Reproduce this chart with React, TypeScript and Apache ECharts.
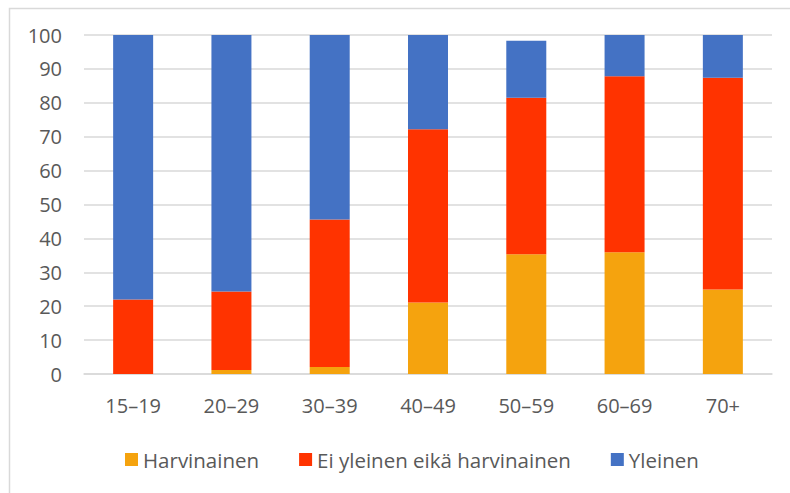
import React, { useEffect, useRef } from "react";
import * as echarts from "echarts";

const categories = ["15–19", "20–29", "30–39", "40–49", "50–59", "60–69", "70+"];
const harvinainen = [0, 1.2, 2.1, 21.1, 35.3, 35.9, 24.9];
const eiYleinen = [22.0, 23.1, 43.5, 51.1, 46.2, 51.9, 62.5];
const yleinen = [78.0, 75.7, 54.4, 27.8, 16.8, 12.2, 12.6];
const seriesNames = ["Harvinainen", "Ei yleinen eikä harvinainen", "Yleinen"];
const colors = ["#F5A30E", "#FF3300", "#4472C4"];

export default function App() {
  const ref = useRef<HTMLDivElement>(null);
  useEffect(() => {
    if (!ref.current) return;
    const chart = echarts.init(ref.current, null, { renderer: "svg" });
    const font = "'Open Sans', sans-serif";
    const data = [harvinainen, eiYleinen, yleinen];
    chart.setOption({
      animation: false,
      color: colors,
      textStyle: { fontFamily: font },
      graphic: [
        {
          type: "rect",
          left: 7,
          top: 6,
          shape: { width: 800, height: 500 },
          style: { fill: "none", stroke: "#d9d9d9", lineWidth: 1.5 },
          silent: true,
        },
      ],
      grid: { left: 84, right: 18, top: 35, bottom: 119 },
      legend: {
        left: 120,
        top: 444,
        itemWidth: 13,
        itemHeight: 13,
        itemGap: 40,
        icon: "rect",
        data: seriesNames,
        textStyle: { color: "#595959", fontSize: 20.5, fontFamily: font },
      },
      xAxis: {
        type: "category",
        data: categories,
        axisLine: { lineStyle: { color: "#d9d9d9", width: 1.5 } },
        axisTick: { show: false },
        axisLabel: { color: "#595959", fontSize: 20, margin: 21, fontFamily: font },
      },
      yAxis: {
        type: "value",
        min: 0,
        max: 100,
        interval: 10,
        axisLine: { show: false },
        axisTick: { show: false },
        splitLine: { lineStyle: { color: "#d9d9d9", width: 1.5 } },
        axisLabel: { color: "#595959", fontSize: 20, margin: 22, fontFamily: font },
      },
      series: seriesNames.map((name, i) => ({
        name,
        type: "bar",
        stack: "total",
        barWidth: 40,
        data: data[i],
        itemStyle: { color: colors[i] },
      })),
    });
    return () => chart.dispose();
  }, []);
  return <div ref={ref} style={{ width: 790, height: 493, position: "absolute", left: 0, top: 0 }} />;
}
